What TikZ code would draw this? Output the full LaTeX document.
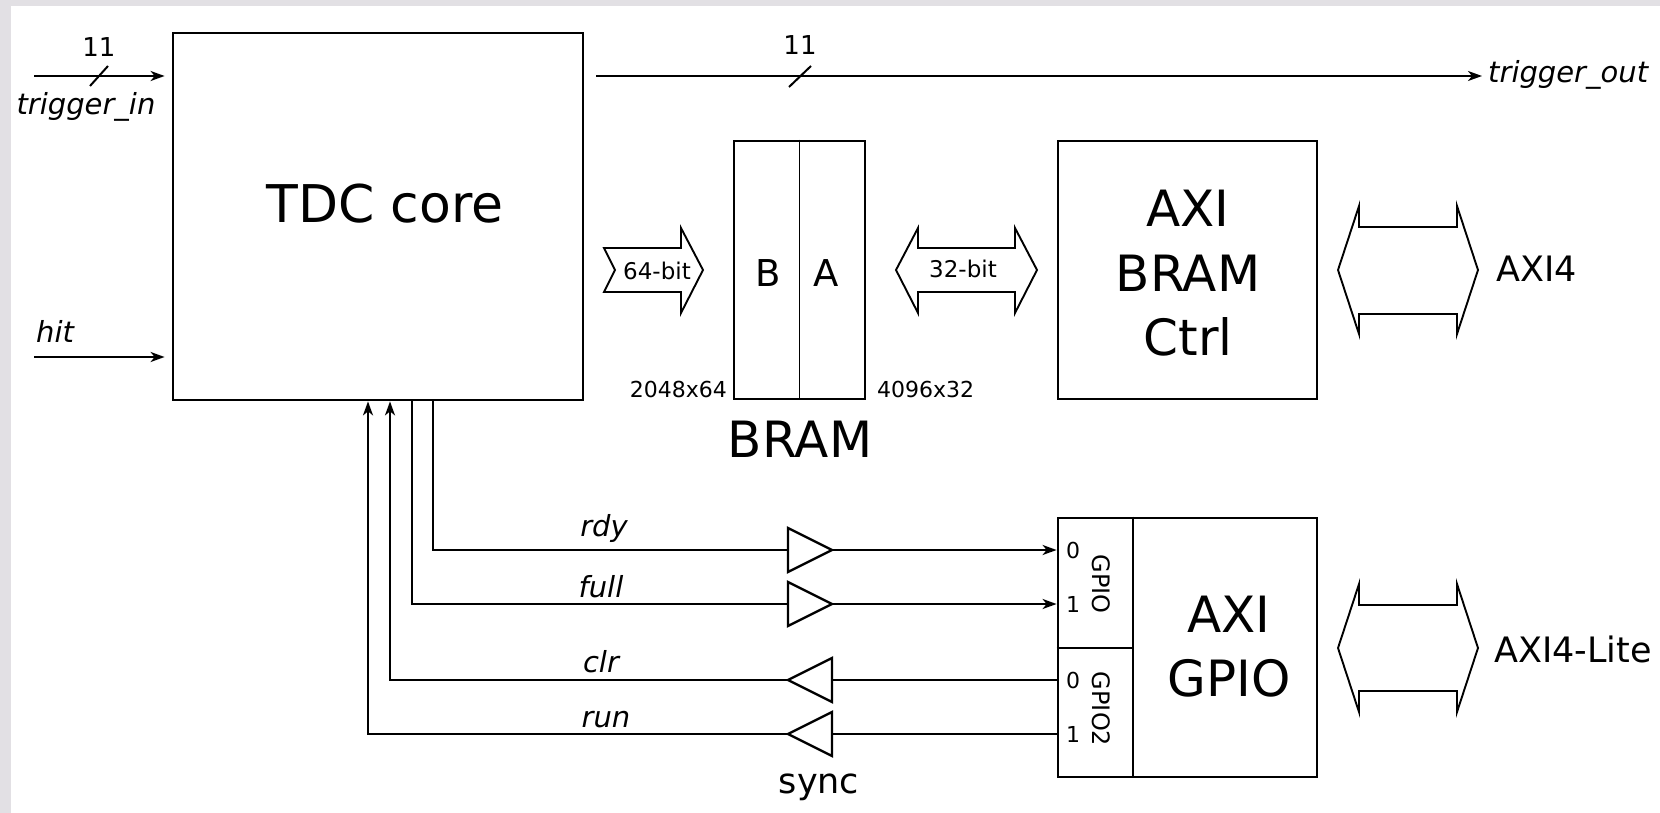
\documentclass[tikz,border=0pt]{standalone}
\usepackage{fontspec}
\setmainfont{DejaVu Sans}
\usetikzlibrary{arrows.meta}
\definecolor{framegray}{RGB}{226,224,228}
\begin{document}
\begin{tikzpicture}[x=1pt,y=-1pt,
  box/.style={draw, line width=2.8pt, inner sep=0pt},
  divline/.style={line width=1.8pt},
  wire/.style={line width=2pt},
  arr/.style={-{Stealth[length=14pt,width=10pt,inset=4pt]}},
  bus/.style={line width=1.9pt, line join=miter},
  buf/.style={line width=2.3pt, line join=miter},
  txt/.style={inner sep=0pt, anchor=base},
  bigtxt/.style={txt, font=\fontsize{50}{60}\selectfont},
  sig/.style={txt, font=\fontsize{29}{34}\selectfont\itshape},
  small/.style={txt, font=\fontsize{22}{26}\selectfont},
  mid/.style={txt, font=\fontsize{23}{28}\selectfont},
  bustxt/.style={txt, font=\fontsize{35}{40}\selectfont},
  pin/.style={inner sep=0pt, font=\fontsize{22}{26}\selectfont},
  width/.style={txt, font=\fontsize{26}{30}\selectfont}
]
% background frame
\fill[framegray] (0,0) rectangle (1660,813);
\fill[white] (11,6) rectangle (1660,813);
\useasboundingbox (0,0) rectangle (1660,813);

% main blocks
\node[box, minimum width=410pt, minimum height=367pt] (tdc) at (378,216.5) {};
\node[txt, font=\fontsize{52}{60}\selectfont] (tdct) at (385,223) {TDC core};

\node[box, minimum width=131pt, minimum height=258pt] (bram) at (799.5,270) {};
\draw[divline] (bram.north) -- (bram.south);
\node[txt, font=\fontsize{37}{40}\selectfont] (bB) at (768,286) {B};
\node[txt, font=\fontsize{37}{40}\selectfont] (bA) at (826,286) {A};
\node[small, anchor=base east] (d1) at (727,397) {2048x64};
\node[small, anchor=base west] (d2) at (877,397) {4096x32};
\node[txt, font=\fontsize{50}{56}\selectfont] (bramt) at (800,457) {BRAM};

\node[box, minimum width=259pt, minimum height=258pt] (ctrl) at (1187.5,270) {};
\node[bigtxt] (c1) at (1188,226) {AXI};
\node[bigtxt] (c2) at (1188,291) {BRAM};
\node[bigtxt] (c3) at (1188,355) {Ctrl};

\node[box, minimum width=259pt, minimum height=259pt] (gpio) at (1187.5,647.5) {};
\coordinate (gdiv) at (1133,0);
\draw[divline] (gpio.north -| gdiv) -- (gpio.south -| gdiv);
\draw[divline] (gpio.west |- 0,648) -- (gdiv |- 0,648);
\node[bigtxt] (g1) at (1229,632) {AXI};
\node[bigtxt] (g2) at (1229,696) {GPIO};
\node[inner sep=0pt, rotate=-90, font=\fontsize{24}{28}\selectfont] (gp1) at (1101,584) {GPIO};
\node[inner sep=0pt, rotate=-90, font=\fontsize{24}{28}\selectfont] (gp2) at (1101,709) {GPIO2};
\node[pin] (p0) at (1073,550) {0};
\node[pin] (p1) at (1073,604) {1};
\node[pin] (p2) at (1073,680) {0};
\node[pin] (p3) at (1073,734) {1};

% trigger_in / hit
\coordinate (tin) at (34,76);
\draw[wire, arr] (tin) -- ([xshift=-7pt]tdc.west |- tin);
\draw[wire] (tin) ++(56,10) -- ++(18,-20);
\node[width] (w1) at (99,57) {11};
\node[sig] (tinl) at (86,115) {trigger\_in};
\coordinate (hin) at (34,357);
\draw[wire, arr] (hin) -- ([xshift=-7pt]tdc.west |- hin);
\node[sig, anchor=base west] (hitl) at (36,342) {hit};

% trigger_out
\coordinate (tout) at (1482,76);
\draw[wire, arr] ([xshift=12pt]tdc.east |- tout) -- (tout);
\draw[wire] (789,87) -- (811,66);
\node[width] (w2) at (800,55) {11};
\node[sig, anchor=base west] (toutl) at (1488,83) {trigger\_out};

% 64-bit arrow
\draw[bus] (604,248) -- (681,248) -- (681,228) -- (703,270) -- (681,313)
  -- (681,292) -- (604,292) -- (615,270) -- cycle;
\node[mid] (b64) at (657,279) {64-bit};
% 32-bit arrow
\draw[bus] (896,270) -- (918,228) -- (918,248) -- (1015,248) -- (1015,228)
  -- (1037,270) -- (1015,313) -- (1015,292) -- (918,292) -- (918,313) -- cycle;
\node[mid] (b32) at (963,277) {32-bit};
% AXI4 arrow
\draw[bus] (1338,270) -- (1359,206) -- (1359,227) -- (1457,227) -- (1457,206)
  -- (1478,270) -- (1457,334) -- (1457,314) -- (1359,314) -- (1359,334) -- cycle;
\node[bustxt, anchor=base west] (axi4) at (1496,281) {AXI4};
% AXI4-Lite arrow
\draw[bus] (1338,648) -- (1359,584) -- (1359,605) -- (1457,605) -- (1457,584)
  -- (1478,648) -- (1457,712) -- (1457,691) -- (1359,691) -- (1359,712) -- cycle;
\node[bustxt, anchor=base west] (axil) at (1494,662) {AXI4-Lite};

% GPIO signals
\coordinate (xr) at (433,0);
\coordinate (xf) at (412,0);
\coordinate (xc) at (390,0);
\coordinate (xu) at (368,0);
\coordinate (rdyIn) at (788,550);  \coordinate (rdyOut) at (832,550);
\coordinate (fulIn) at (788,604);  \coordinate (fulOut) at (832,604);
\coordinate (clrIn) at (832,680);  \coordinate (clrOut) at (788,680);
\coordinate (runIn) at (832,734);  \coordinate (runOut) at (788,734);

\draw[buf] (rdyIn) ++(0,-22) -- (rdyOut) -- ++(-44,22) -- cycle;
\draw[buf] (fulIn) ++(0,-22) -- (fulOut) -- ++(-44,22) -- cycle;
\draw[buf] (clrIn) ++(0,-22) -- (clrOut) -- ++(44,22) -- cycle;
\draw[buf] (runIn) ++(0,-22) -- (runOut) -- ++(44,22) -- cycle;

\draw[wire] (tdc.south -| xr) |- (rdyIn);
\draw[wire, arr] (rdyOut) -- (rdyOut -| gpio.west);
\draw[wire] (tdc.south -| xf) |- (fulIn);
\draw[wire, arr] (fulOut) -- (fulOut -| gpio.west);
\draw[wire] (clrIn -| gpio.west) -- (clrIn);
\draw[wire, arr] (clrOut) -| (tdc.south -| xc);
\draw[wire] (runIn -| gpio.west) -- (runIn);
\draw[wire, arr] (runOut) -| (tdc.south -| xu);

\node[sig] (rdyl) at (604,536) {rdy};
\node[sig] (full) at (601,597) {full};
\node[sig] (clrl) at (601,672) {clr};
\node[sig] (runl) at (606,727) {run};
\node[txt, font=\fontsize{35}{40}\selectfont] (sync) at (819,793) {sync};
\end{tikzpicture}
\end{document}
